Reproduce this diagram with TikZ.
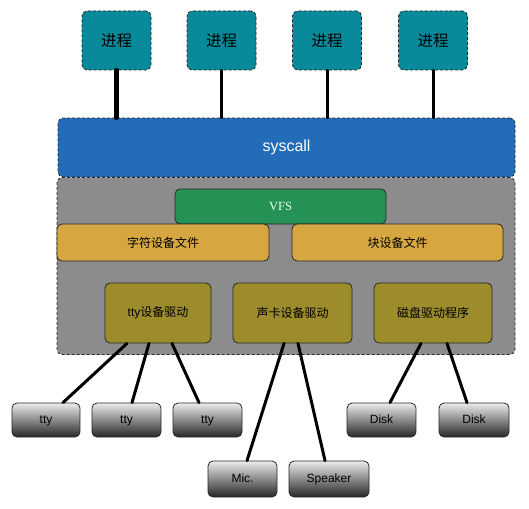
\documentclass[tikz,border=0pt]{standalone}
\usepackage{fontspec}
\setmainfont{Liberation Sans}
\newfontfamily\cjk{Noto Sans CJK SC}
\newfontfamily\vfsfont{Liberation Serif}
\usepackage{tikz}

\definecolor{procteal}{RGB}{8,138,154}
\definecolor{sysblue}{RGB}{35,109,184}
\definecolor{kgray}{RGB}{140,140,140}
\definecolor{vfsgreen}{RGB}{38,145,85}
\definecolor{fileyellow}{RGB}{214,166,64}
\definecolor{drvolive}{RGB}{156,140,44}

\tikzset{
  box/.style={rounded corners=5pt, inner sep=0pt, line width=0.8pt},
  dashbox/.style={box, draw=black!85, dash pattern=on 3pt off 2pt},
  proc/.style={dashbox, fill=procteal, minimum width=69pt, minimum height=59pt,
    font=\cjk\fontsize{15.5}{17}\selectfont},
  filebox/.style={box, draw=black!85, fill=fileyellow, minimum height=37pt,
    font=\cjk\fontsize{12}{14}\selectfont},
  drvbox/.style={box, draw=black!85, fill=drvolive, minimum height=60pt,
    font=\fontsize{12}{14}\selectfont},
  dev/.style={box, draw=black!85, top color=gray!15, middle color=gray!45,
    bottom color=black!85, minimum height=34pt, text height=8.5pt, text depth=2pt,
    font=\fontsize{12}{14}\selectfont},
  wire/.style={line width=3pt, line cap=round},
}

\begin{document}
\begin{tikzpicture}[x=1pt,y=-1pt]
  \useasboundingbox (0,0) rectangle (529,508);

  %% Processes and syscall
  \node[proc] (p1) at (116.5,40.5) {进程};
  \node[proc] (p2) at (221.5,40.5) {进程};
  \node[proc] (p3) at (327,40.5) {进程};
  \node[proc] (p4) at (433,40.5) {进程};
  \node[dashbox, fill=kgray, minimum width=458pt, minimum height=177pt] (kernel) at (286,266) {};
  \node[dashbox, fill=sysblue, minimum width=457pt, minimum height=59pt,
        text=white, font=\fontsize{16}{18}\selectfont] (sys) at (286.5,147.5) {syscall};
  \draw[wire, line width=5pt] (p1.south) -- (p1.south |- sys.north);
  \draw[wire] (p2.south) -- (p2.south |- sys.north);
  \draw[wire] (p3.south) -- (p3.south |- sys.north);
  \draw[wire] (p4.south) -- (p4.south |- sys.north);

  %% Kernel
  \node[box, draw=black!85, fill=vfsgreen, minimum width=211pt, minimum height=35pt,
        text=white!92!green, font=\vfsfont\fontsize{12.5}{14}\selectfont] (vfs) at (280.5,206.5) {VFS};
  \node[filebox, minimum width=212pt] (chrfile) at (163,242.5) {字符设备文件};
  \node[filebox, minimum width=211pt] (blkfile) at (397.5,242.5) {块设备文件};
  \node[drvbox, minimum width=106pt] (ttydrv) at (158,313) {tty{\cjk 设备驱动}};
  \node[drvbox, minimum width=119pt] (snddrv) at (292.5,313) {\cjk 声卡设备驱动};
  \node[drvbox, minimum width=118pt] (diskdrv) at (433,313) {\cjk 磁盘驱动程序};

  %% Devices
  \node[dev, minimum width=68pt] (tty1) at (46,420) {tty};
  \node[dev, minimum width=69pt] (tty2) at (126.5,420) {tty};
  \node[dev, minimum width=69pt] (tty3) at (207.5,420) {tty};
  \node[dev, minimum width=69pt] (disk1) at (381.5,420) {Disk};
  \node[dev, minimum width=70pt] (disk2) at (474,420) {Disk};
  \node[dev, minimum width=69pt, minimum height=36pt] (mic) at (242.5,479) {Mic.};
  \node[dev, minimum width=80pt, minimum height=36pt] (spk) at (329,479) {Speaker};

  \draw[wire] ([xshift=-31pt]ttydrv.south) -- ([xshift=17pt]tty1.north);
  \draw[wire] ([xshift=-9pt]ttydrv.south) -- ([xshift=5.5pt]tty2.north);
  \draw[wire] ([xshift=14pt]ttydrv.south) -- ([xshift=-8.5pt]tty3.north);
  \draw[wire] ([xshift=-8.5pt]snddrv.south) -- ([xshift=4.5pt]mic.north);
  \draw[wire] ([xshift=5.5pt]snddrv.south) -- ([xshift=-4pt]spk.north);
  \draw[wire] ([xshift=-12pt]diskdrv.south) -- ([xshift=8.5pt]disk1.north);
  \draw[wire] ([xshift=14pt]diskdrv.south) -- ([xshift=-7pt]disk2.north);
\end{tikzpicture}
\end{document}
